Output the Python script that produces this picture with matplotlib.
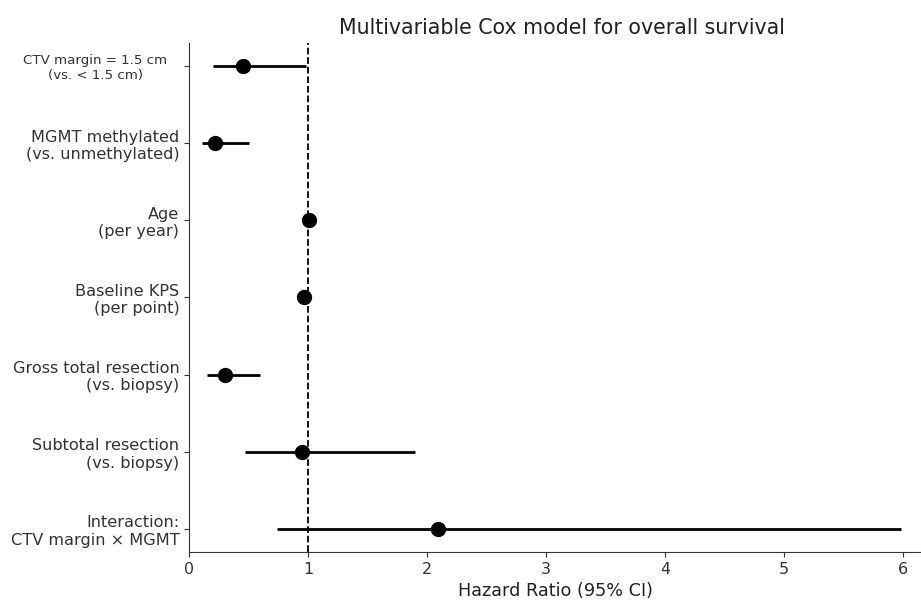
import numpy as np
import matplotlib.pyplot as plt
import matplotlib.transforms as mtransforms

labels = [
    "CTV margin = 1.5 cm\n(vs. < 1.5 cm)",
    "MGMT methylated\n(vs. unmethylated)",
    "Age\n(per year)",
    "Baseline KPS\n(per point)",
    "Gross total resection\n(vs. biopsy)",
    "Subtotal resection\n(vs. biopsy)",
    "Interaction:\nCTV margin \u00d7 MGMT",
]
hr = [0.45, 0.22, 1.01, 0.97, 0.30, 0.95, 2.09]
ci_low = [0.20, 0.11, 0.99, 0.95, 0.15, 0.47, 0.74]
ci_high = [0.98, 0.50, 1.03, 0.99, 0.60, 1.90, 5.98]

hr = np.array(hr)
ypos = np.arange(len(labels))[::-1]
xerr = [hr - np.array(ci_low), np.array(ci_high) - hr]

fig = plt.figure(figsize=(9.21, 6.0), dpi=100)
ax = fig.add_axes([189 / 921, 48 / 600, 1 - 189 / 921, 1 - (48 + 42.8) / 600])

ax.errorbar(hr, ypos, xerr=xerr, fmt='o', color='black', ecolor='black',
            markersize=10, elinewidth=2, capsize=0)
ax.axvline(1, color='black', linestyle='--', linewidth=1.3)

ax.set_yticks(ypos)
ax.set_yticklabels(labels, fontsize=11.6, color='#222222')
first = ax.get_yticklabels()[0]
first.set_fontsize(9.6)
first.set_multialignment('center')
first.set_transform(first.get_transform() +
                    mtransforms.ScaledTranslation(-0.12, 0, fig.dpi_scale_trans))
ax.set_ylim(-0.3, 6.3)
ax.set_xlim(0, (921 - 189) / 119)
ax.set_xticks(range(7))
ax.tick_params(axis='x', labelsize=11.5, labelcolor='#222222')
ax.tick_params(colors='#333333')
ax.set_xlabel("Hazard Ratio (95% CI)", fontsize=12.7, color='#222222')
ax.set_title("Multivariable Cox model for overall survival", fontsize=14.8,
             color='#222222', x=(562 - 189) / (921 - 189))
ax.spines['top'].set_visible(False)
ax.spines['right'].set_visible(False)
for s in ['left', 'bottom']:
    ax.spines[s].set_color('#333333')

fig.savefig("out.png", dpi=100)
